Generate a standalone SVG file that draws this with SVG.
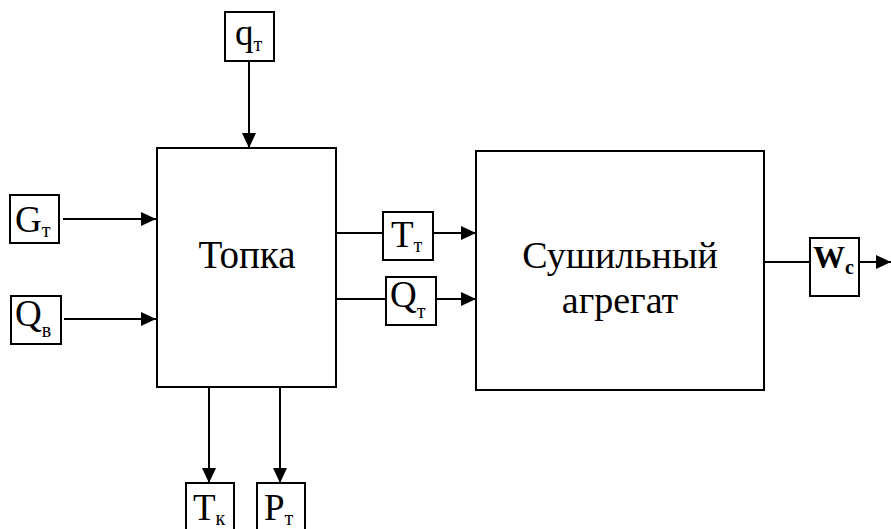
<svg xmlns="http://www.w3.org/2000/svg" width="891" height="529" viewBox="0 0 891 529">
<defs>
<marker id="arr" markerUnits="userSpaceOnUse" markerWidth="16" markerHeight="16" viewBox="0 0 16 16" refX="15" refY="8" orient="auto">
<path d="M0,1 L15,8 L0,15 Z" fill="#000"/>
</marker>
</defs>
<style>
.box{fill:#fff;stroke:#000;stroke-width:2}
.ln{fill:none;stroke:#000;stroke-width:2}
text{font-family:'Liberation Serif',serif;fill:#000}
.big{font-size:38px}
.lab{font-size:37px}
.sub{font-size:20px}
.w{font-size:32px;font-weight:bold}
</style>
<rect width="891" height="529" fill="#fff"/>
<g id="connectors">
<path class="ln" d="M249,61 V148" marker-end="url(#arr)"/>
<path class="ln" d="M63,219 H156" marker-end="url(#arr)"/>
<path class="ln" d="M64,319 H156" marker-end="url(#arr)"/>
<path class="ln" d="M209,387 V483" marker-end="url(#arr)"/>
<path class="ln" d="M280,387 V483" marker-end="url(#arr)"/>
<path class="ln" d="M336,233 H383"/>
<path class="ln" d="M433,233 H476" marker-end="url(#arr)"/>
<path class="ln" d="M336,299 H386"/>
<path class="ln" d="M436,299 H476" marker-end="url(#arr)"/>
<path class="ln" d="M764,262 H810"/>
<path class="ln" d="M859,262 H891" marker-end="url(#arr)"/>
</g>
<g id="topka">
<rect class="box" x="157" y="148" width="179" height="239"/>
<text class="big" x="247" y="268" text-anchor="middle" style="font-size:39px">Топка</text>
</g>
<g id="sushilny">
<rect class="box" x="476" y="151" width="288" height="239"/>
<text class="big" x="620" y="268" text-anchor="middle">Сушильный</text>
<text class="big" x="620" y="313" text-anchor="middle">агрегат</text>
</g>
<g id="qt">
<rect class="box" x="225" y="12" width="49" height="49"/>
<text class="lab" x="235" y="45">q<tspan class="sub" dy="6">т</tspan></text>
</g>
<g id="Gt">
<rect class="box" x="10" y="195" width="49" height="48"/>
<text class="lab" x="15" y="232">G<tspan class="sub" dy="5">т</tspan></text>
</g>
<g id="Qv">
<rect class="box" x="11" y="296" width="50" height="48"/>
<text class="lab" x="15" y="326">Q<tspan class="sub" dy="11">в</tspan></text>
</g>
<g id="Tt">
<rect class="box" x="383" y="212" width="50" height="48"/>
<text class="lab" x="391" y="247">T<tspan class="sub" dy="5">т</tspan></text>
</g>
<g id="Qt">
<rect class="box" x="386" y="277" width="50" height="48"/>
<text class="lab" x="390" y="307">Q<tspan class="sub" dy="11">т</tspan></text>
</g>
<g id="Wc">
<rect class="box" x="810" y="238" width="49" height="58"/>
<text class="w" x="813" y="268">W<tspan class="sub" dy="6">c</tspan></text>
</g>
<g id="Tk">
<rect class="box" x="186" y="483" width="48" height="50"/>
<text class="lab" x="193" y="520">T<tspan class="sub" dy="5">к</tspan></text>
</g>
<g id="Pt">
<rect class="box" x="257" y="483" width="48" height="50"/>
<text class="lab" x="264" y="520">P<tspan class="sub" dy="5">т</tspan></text>
</g>
</svg>
